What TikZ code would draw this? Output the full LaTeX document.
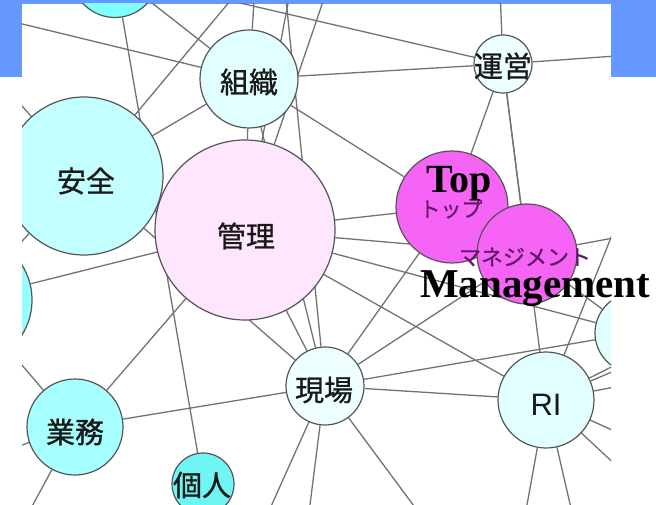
\documentclass[tikz,border=0pt]{standalone}
\usepackage{fontspec}
\setmainfont{Liberation Serif}
\newfontfamily\jpfont[FakeBold=0.9]{Noto Sans CJK JP}
\newfontfamily\kanafont[FakeBold=0.6]{Noto Sans CJK JP}
\newfontfamily\sansf{Liberation Sans}
\pgfdeclarelayer{bg}
\pgfdeclarelayer{edges}
\pgfsetlayers{bg,edges,main}
\definecolor{bluebar}{RGB}{102,153,255}
\definecolor{edgegray}{RGB}{115,115,115}
\definecolor{bordergray}{RGB}{85,85,85}
\definecolor{cyanA}{RGB}{128,255,255}
\definecolor{cyanB}{RGB}{150,255,255}
\definecolor{cyanC}{RGB}{195,255,255}
\definecolor{cyanD}{RGB}{168,255,255}
\definecolor{cyanE}{RGB}{112,245,245}
\definecolor{paleA}{RGB}{225,255,255}
\definecolor{paleB}{RGB}{238,255,255}
\definecolor{pinkA}{RGB}{255,230,255}
\definecolor{magA}{RGB}{245,100,245}
\definecolor{jptext}{RGB}{25,25,25}
\definecolor{kanatext}{RGB}{95,25,105}
\tikzset{
  nd/.style={circle, draw=bordergray, line width=1.2pt, inner sep=0pt},
  edge/.style={draw=edgegray, line width=1.3pt},
  jp/.style={font=\jpfont\fontsize{29}{29}\selectfont, text=jptext},
  kana/.style={font=\kanafont\fontsize{21}{21}\selectfont, text=kanatext},
  big/.style={font=\bfseries, text=black, inner sep=0pt}
}
\begin{document}
\begin{tikzpicture}[x=1pt,y=-1pt]
\useasboundingbox (0,0) rectangle (656,505);
\begin{pgfonlayer}{bg}
  \fill[bluebar] (0,0) rectangle (656,77);
  \fill[white] (22,4) rectangle (611,505);
\end{pgfonlayer}
% nodes
\begin{scope}
  \clip (22,4) rectangle (611,505);
  \node[nd, fill=cyanA, minimum size=87pt] (tl) at (115,-26) {};
  \node[nd, fill=cyanB, minimum size=132pt] (lf) at (-34,300) {};
  \node[nd, fill=cyanC, minimum size=158pt, label={[jp,xshift=2pt,yshift=-5pt]center:安全}] (anzen) at (84,176) {};
  \node[nd, fill=paleA, minimum size=98pt, label={[jp,yshift=-3pt]center:組織}] (soshiki) at (249,79) {};
  \node[nd, fill=paleB, minimum size=58pt, label={[jp,yshift=-2pt]center:運営}] (unei) at (503,64) {};
  \node[nd, fill=pinkA, minimum size=180pt, label={[jp,xshift=1pt,yshift=-6pt]center:管理}] (kanri) at (245,230) {};
  \node[nd, fill=magA, minimum size=112pt, label={[kana,xshift=-1pt,yshift=-2pt]center:トップ}] (top) at (452,207) {};
  \node[nd, fill=magA, minimum size=100pt, label={[kana,font=\kanafont\fontsize{22}{22}\selectfont,xshift=-2pt,yshift=-3pt]center:マネジメント}] (mgmt) at (527,254) {};
  \node[nd, fill=paleB, minimum size=78pt, label={[jp,xshift=-1pt,yshift=-4pt]center:現場}] (genba) at (325,386) {};
  \node[nd, fill=paleA, minimum size=96pt, label={[font=\sansf\fontsize{31}{31}\selectfont,text=jptext,yshift=-5pt]center:RI}] (ri) at (546,400) {};
  \node[nd, fill=cyanD, minimum size=96pt, label={[jp,yshift=-5pt]center:業務}] (gyomu) at (75,427) {};
  \node[nd, fill=cyanE, minimum size=62pt, label={[jp,xshift=-1pt,yshift=-1pt]center:個人}] (kojin) at (203,484) {};
  \node[nd, fill=paleA, minimum size=80pt] (rn) at (635,333) {};
\end{scope}
% off-picture end points
\coordinate (o1) at (-60,4);
\coordinate (o2) at (-60,473);
\coordinate (o3) at (-40,36);
\coordinate (t1) at (281,-60);
\coordinate (t2) at (258,-60);
\coordinate (t3) at (300,-60);
\coordinate (t4) at (344,-60);
\coordinate (t5) at (498,-60);
\coordinate (t6) at (280,-60);
\coordinate (r1) at (700,50);
\coordinate (r2) at (700,222);
\coordinate (r3) at (680,65);
\coordinate (r4) at (700,371);
\coordinate (r5) at (700,470);
\coordinate (r6) at (680,525);
\coordinate (r7) at (720,312);
\coordinate (r8) at (720,326);
\coordinate (b1) at (517,560);
\coordinate (b2) at (583,560);
\coordinate (b3) at (247,560);
\coordinate (b4) at (303,560);
\coordinate (b5) at (454,560);
\coordinate (b6) at (3,560);
\begin{pgfonlayer}{edges}
\begin{scope}
  \clip (22,4) rectangle (611,505);
  \draw[edge] (tl) -- (soshiki);
  \draw[edge] (tl) -- (unei);
  \draw[edge] (tl) -- (kojin);
  \draw[edge] (anzen) -- (soshiki);
  \draw[edge] (anzen) -- (lf);
  \draw[edge] (anzen) -- (genba);
  \draw[edge] (anzen) -- (t1);
  \draw[edge] (anzen) -- (o3);
  \draw[edge] (soshiki) -- (o1);
  \draw[edge] (soshiki) -- (t2);
  \draw[edge] (soshiki) -- (unei);
  \draw[edge] (soshiki) -- (kanri);
  \draw[edge] (soshiki) -- (genba);
  \draw[edge] (soshiki) -- (top);
  \draw[edge] (t3) -- (kanri);
  \draw[edge] (t4) -- (kanri);
  \draw[edge] (t6) -- (genba);
  \draw[edge] (unei) -- (t5);
  \draw[edge] (unei) -- (r1);
  \draw[edge] (unei) -- (top);
  \draw[edge] (unei) -- (mgmt);
  \draw[edge] (unei) -- (ri);
  \draw[edge] (kanri) -- (top);
  \draw[edge] (kanri) -- (mgmt);
  \draw[edge] (kanri) -- (rn);
  \draw[edge] (kanri) -- (ri);
  \draw[edge] (kanri) -- (genba);
  \draw[edge] (kanri) -- (gyomu);
  \draw[edge] (kanri) -- (lf);
  \draw[edge] (genba) -- (top);
  \draw[edge] (genba) -- (mgmt);
  \draw[edge] (genba) -- (rn);
  \draw[edge] (genba) -- (ri);
  \draw[edge] (genba) -- (gyomu);
  \draw[edge] (genba) -- (b3);
  \draw[edge] (genba) -- (b4);
  \draw[edge] (genba) -- (b5);
  \draw[edge] (mgmt) -- (rn);
  \draw[edge] (mgmt) -- (r2);
  \draw[edge] (ri) -- (r3);
  \draw[edge] (ri) -- (r4);
  \draw[edge] (ri) -- (r5);
  \draw[edge] (ri) -- (r6);
  \draw[edge] (ri) -- (r7);
  \draw[edge] (ri) -- (r8);
  \draw[edge] (ri) -- (b1);
  \draw[edge] (ri) -- (b2);
  \draw[edge] (gyomu) -- (lf);
  \draw[edge] (gyomu) -- (b6);
  \draw[edge] (gyomu) -- (o2);
\end{scope}
\end{pgfonlayer}
% overlay captions
\node[big, anchor=base west, font=\bfseries\fontsize{40}{40}\selectfont] (toplbl) at (426,193) {Top};
\node[big, anchor=base west, font=\bfseries\fontsize{41}{41}\selectfont] (mgmtlbl) at (420,297) {Management};
\end{tikzpicture}
\end{document}
